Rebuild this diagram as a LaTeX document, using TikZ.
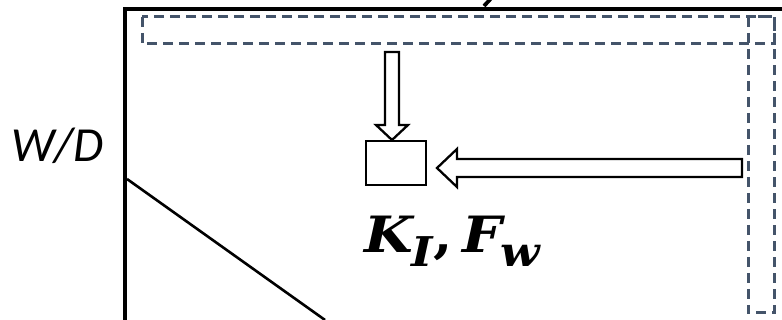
\documentclass[tikz,border=0pt]{standalone}
\usepackage{fontspec}
\newfontfamily\labelfont{Carlito}
\newfontfamily\quantfont[FakeStretch=1.12]{DejaVu Serif}
\definecolor{slate}{HTML}{44546A}
\newcommand{\wdsize}{\labelfont\itshape\fontsize{49}{54}\selectfont}
\newcommand{\kfsize}{\quantfont\bfseries\itshape\fontsize{50}{56}\selectfont}
\newcommand{\lowidx}[1]{\raisebox{-14pt}{\fontsize{41}{44}\selectfont #1}}
\tikzset{
  frameline/.style={line width=3.2pt, black},
  zone/.style={draw=slate, line width=3pt, dash pattern=on 10pt off 6pt},
  hollow/.style={draw=black, fill=white, line width=2.3pt, line join=miter},
  cellbox/.style={draw=black, line width=2.3pt, minimum width=60pt, minimum height=44pt, inner sep=0pt},
}
\begin{document}
\begin{tikzpicture}[x=1pt, y=-1pt]
  \useasboundingbox (0,0) rectangle (782,320);
  % axes frame
  \draw[frameline] (125,320) -- (125,9) -- (782,9);
  % clipped stroke of the heading above
  \draw[line width=3.8pt, line cap=butt] (490.5,-1) -- (484,6);
  % dashed zones along the top and the right side
  \draw[zone] (142,17) rectangle (774,44);
  \draw[zone] (748,17) rectangle (774,313);
  % sloped line
  \coordinate (s0) at (127,179);
  \coordinate (s1) at (325,320);
  \draw[line width=2.6pt] (s0) -- (s1);
  % small element
  \node[cellbox] (cell) at (396,163) {};
  % block arrow from the top zone
  \draw[hollow] (385,52) -- (399,52) -- (399,125) -- (408,125) -- (392,140)
        -- (376,125) -- (385,125) -- cycle;
  % block arrow from the right zone
  \draw[hollow] (742,159) -- (742,177) -- (457,177) -- (457,187) -- (437,168)
        -- (457,149) -- (457,159) -- cycle;
  % labels
  \node[anchor=base east, inner sep=0pt, font=\wdsize] (wd) at (104,162) {W/D};
  \node[anchor=base west, inner sep=0pt, font=\kfsize] (kf) at (364,253)
    {K\kern-1pt\lowidx{I}{\upshape ,}\kern10pt F\kern-2pt\lowidx{w}};
\end{tikzpicture}
\end{document}
